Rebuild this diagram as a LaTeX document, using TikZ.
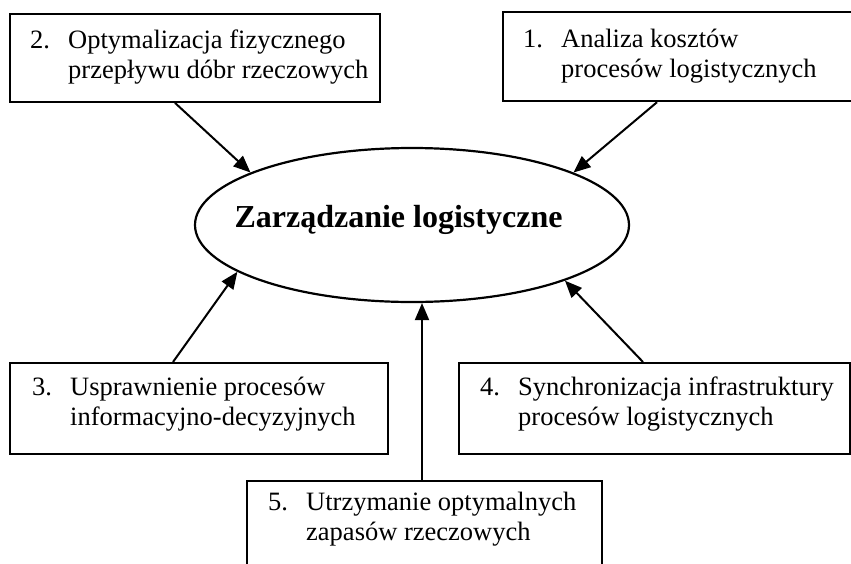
\documentclass[tikz,border=0pt]{standalone}
\usepackage{fontspec}
\setmainfont{Liberation Serif}
\usetikzlibrary{shapes.geometric,arrows.meta}

\tikzset{
  box/.style={draw, rectangle, line width=2.2pt, inner sep=0pt, anchor=north west},
  hub/.style={draw, ellipse, line width=2.2pt, inner sep=0pt},
  entry/.style={anchor=base west, inner sep=0pt, font=\fontsize{26.5}{30.5}\selectfont},
  title/.style={anchor=base, inner sep=0pt, font=\fontsize{32}{36}\selectfont\bfseries},
  arr/.style={line width=2pt, -{Triangle[length=17pt,width=14pt]}}
}

% numbered entry: number column followed by a two-line description
\newcommand{\listentry}[3]{%
  \begin{tabular}[t]{@{}p{38pt}@{}l@{}}#1&#2\\&#3\end{tabular}}

\begin{document}
\begin{tikzpicture}[x=1pt,y=-1pt]
  \useasboundingbox (0,0) rectangle (851,563);
  \fill[white] (0,0) rectangle (851,563);
  \clip (0,0) rectangle (851,563);

  % central goal
  \node[hub, minimum width=434pt, minimum height=154pt] (zl) at (412,225) {};
  \node[title] (zlt) at (398.5,227) {Zarządzanie logistyczne};

  % surrounding boxes
  \node[box, minimum width=370pt, minimum height=88pt] (b2) at (9,12.7) {};
  \node[box, minimum width=360pt, minimum height=89pt] (b1) at (502,11) {};
  \node[box, minimum width=378pt, minimum height=91pt] (b3) at (9,362) {};
  \node[box, minimum width=391pt, minimum height=91pt] (b4) at (458,362) {};
  \node[box, minimum width=355pt, minimum height=110pt] (b5) at (246,480) {};

  % box texts
  \node[entry] (t2) at (30,48)  {\listentry{2.}{Optymalizacja fizycznego}{przepływu dóbr rzeczowych}};
  \node[entry] (t1) at (523,47) {\listentry{1.}{Analiza kosztów}{procesów logistycznych}};
  \node[entry] (t3) at (32,395) {\listentry{3.}{Usprawnienie procesów}{informacyjno-decyzyjnych}};
  \node[entry] (t4) at (480,395) {\listentry{4.}{Synchronizacja infrastruktury}{procesów logistycznych}};
  \node[entry] (t5) at (268,510) {\listentry{5.}{Utrzymanie optymalnych}{zapasów rzeczowych}};

  % connectors into the ellipse
  \draw[arr] ([xshift=166pt]b2.south west) -- (zl.162);
  \draw[arr] ([xshift=155pt]b1.south west) -- (zl.18);
  \draw[arr] ([xshift=164pt]b3.north west) -- (zl.195);
  \draw[arr] ([xshift=185pt]b4.north west) -- (zl.340);
  \draw[arr] ([xshift=176pt]b5.north west) coordinate (s5) -- (s5 |- zl.south);
\end{tikzpicture}
\end{document}
